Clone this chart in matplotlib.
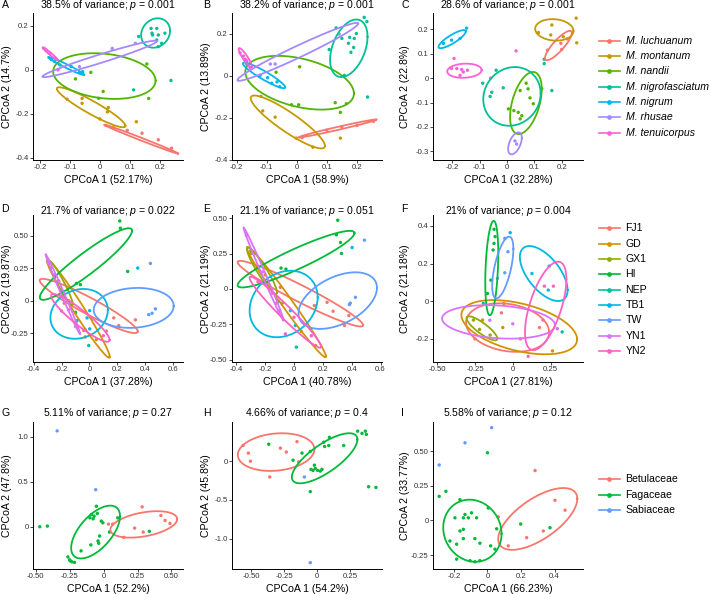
import numpy as np
import matplotlib
matplotlib.use("Agg")
import matplotlib.pyplot as plt
from matplotlib.lines import Line2D

plt.rcParams["font.family"] = "Liberation Sans"
plt.rcParams["mathtext.fontset"] = "custom"
plt.rcParams["mathtext.rm"] = "Liberation Sans"
plt.rcParams["mathtext.it"] = "Liberation Sans:italic"

W, H = 709, 594

# groups
species = ["M. luchuanum", "M. montanum", "M. nandii", "M. nigrofasciatum",
           "M. nigrum", "M. rhusae", "M. tenuicorpus"]
species_col = ["#F8766D", "#C49A00", "#53B400", "#00C094", "#00B6EB", "#A58AFF", "#FB61D7"]
sites = ["FJ1", "GD", "GX1", "HI", "NEP", "TB1", "TW", "YN1", "YN2"]
site_col = ["#F8766D", "#D39200", "#93AA00", "#00BA38", "#00C19F", "#00B9E3",
            "#619CFF", "#DB72FB", "#FF61C3"]
families = ["Betulaceae", "Fagaceae", "Sabiaceae"]
family_col = ["#F8766D", "#00BA38", "#619CFF"]

# ---- panel A (species) ----
A_pts = {
    "M. luchuanum": [(0.019, -0.253), (0.04, -0.262), (0.09, -0.275), (0.139, -0.288), (0.193, -0.318), (0.237, -0.356)],
    "M. montanum": [(-0.110, -0.133), (-0.060, -0.130), (-0.060, -0.152), (-0.001, -0.223), (0.024, -0.191),
                    (0.027, -0.171), (0.044, -0.262), (0.120, -0.236)],
    "M. nandii": [(-0.031, -0.011), (-0.082, -0.041), (0.01, -0.098), (-0.005, -0.129), (0.155, 0.027), (0.161, -0.13)],
    "M. nigrofasciatum": [(0.169, 0.189), (0.188, 0.189), (0.215, 0.167), (0.172, 0.167), (0.174, 0.159), (0.193, 0.159),
                          (0.188, 0.136), (0.204, 0.121), (0.193, 0.106), (0.128, 0.152), (0.235, -0.048), (0.111, -0.091)],
    "M. nigrum": [(-0.162, 0.048), (-0.151, 0.038), (-0.134, 0.023), (-0.096, 0.015), (-0.069, -0.012), (-0.058, -0.008)],
    "M. rhusae": [(0.117, 0.121), (0.04, 0.098), (-0.069, 0.015)],
    "M. tenuicorpus": [(-0.187, 0.098), (-0.178, 0.088), (-0.167, 0.076), (-0.14, 0.0)],
}
A_ell = {
    "M. luchuanum": (0.136, -0.315, 0.123, 0.066, -0.995),
    "M. montanum": (-0.030, -0.170, 0.114, 0.091, -0.93),
    "M. nandii": (0.014, -0.028, 0.17, 0.104, -0.2),
    "M. nigrofasciatum": (0.184, 0.168, 0.048, 0.067, 0.15),
    "M. nigrum": (-0.113, 0.018, 0.060, 0.041, -0.975),
    "M. rhusae": (-0.002, 0.05, 0.19, 0.083, 0.97),
    "M. tenuicorpus": (-0.166, 0.074, 0.025, 0.029, -0.97),
}

# ---- panel B ----
B_pts = {
    "M. luchuanum": [(0.017, -0.293), (0.099, -0.258), (0.149, -0.242), (0.199, -0.235), (0.254, -0.216)],
    "M. montanum": [(-0.119, -0.097), (-0.113, -0.166), (-0.072, -0.196), (-0.002, -0.296), (0.053, -0.339), (0.144, -0.296)],
    "M. nandii": [(0.009, 0.044), (-0.018, -0.137), (0.006, -0.137), (0.127, -0.127), (0.164, -0.132), (0.144, -0.173), (-0.069, 0.018)],
    "M. nigrofasciatum": [(0.223, 0.279), (0.232, 0.259), (0.13, 0.229), (0.149, 0.179), (0.175, 0.184), (0.19, 0.179),
                          (0.171, 0.156), (0.188, 0.136), (0.179, 0.113), (0.107, 0.126), (0.197, 0.202), (0.157, 0.003), (0.234, -0.1)],
    "M. nigrum": [(-0.166, 0.057), (-0.122, 0.003), (-0.097, -0.008), (-0.083, -0.035), (-0.057, -0.051), (-0.066, -0.028)],
    "M. rhusae": [(-0.088, 0.057), (-0.072, 0.057), (0.14, 0.2)],
    "M. tenuicorpus": [(-0.188, 0.11), (-0.177, 0.095), (-0.166, 0.072), (-0.171, 0.08), (-0.155, 0.041)],
}
B_ell = {
    "M. luchuanum": (0.134, -0.25, 0.129, 0.043, 0.985),
    "M. montanum": (-0.03, -0.219, 0.123, 0.126, -0.9),
    "M. nandii": (0.009, -0.032, 0.18, 0.128, -0.4),
    "M. nigrofasciatum": (0.172, 0.132, 0.062, 0.137, 0.4),
    "M. nigrum": (-0.109, 0.003, 0.07, 0.061, -0.93),
    "M. rhusae": (0.003, 0.115, 0.2, 0.138, 0.975),
    "M. tenuicorpus": (-0.171, 0.087, 0.022, 0.046, -0.9),
}

# ---- panel C ----
C_pts = {
    "M. luchuanum": [(0.197, 0.142), (0.2, 0.117), (0.148, 0.114), (0.22, 0.16)],
    "M. montanum": [(0.164, 0.217), (0.16, 0.176), (0.115, 0.186), (0.253, 0.245), (0.255, 0.144), (0.206, 0.169)],
    "M. nandii": [(0.07, -0.021), (0.048, -0.051), (0.077, -0.044), (0.127, -0.044), (0.084, -0.081), (0.005, -0.126),
                  (0.025, -0.133), (0.041, -0.14), (0.054, -0.154), (0.048, -0.167), (0.096, -0.105)],
    "M. nigrofasciatum": [(0.136, 0.077), (0.136, 0.059), (-0.089, -0.021), (-0.056, -0.058), (-0.062, -0.075),
                          (-0.014, -0.04), (0.164, -0.051), (-0.04, 0.032)],
    "M. nigrum": [(-0.203, 0.155), (-0.148, 0.204), (-0.233, 0.142), (-0.172, 0.162)],
    "M. rhusae": [(0.029, -0.257), (0.035, -0.27)],
    "M. tenuicorpus": [(-0.194, 0.08), (-0.203, 0.039), (-0.184, 0.039), (-0.166, 0.035), (-0.172, 0.011),
                       (-0.16, 0.025), (-0.145, 0.032), (0.033, 0.111), (-0.06, 0.0)],
}
C_ell = {
    "M. luchuanum": (0.188, 0.133, 0.049, 0.06, 0.85),
    "M. montanum": (0.173, 0.197, 0.07, 0.044, -0.1),
    "M. nandii": (0.069, -0.102, 0.058, 0.127, 0.45),
    "M. nigrofasciatum": (0.018, -0.075, 0.105, 0.12, 0.1),
    "M. nigrum": (-0.201, 0.159, 0.05, 0.037, 0.85),
    "M. rhusae": (0.029, -0.267, 0.025, 0.045, 0.5),
    "M. tenuicorpus": (-0.156, 0.03, 0.063, 0.029, 0.1),
}

# ---- panel D (sites) ----
D_pts = {
    "FJ1": [(0.175, -0.133), (0.211, -0.192), (0.33, -0.148), (0.122, -0.235), (-0.041, -0.23), (-0.16, 0.0)],
    "GD": [(-0.25, 0.18), (-0.18, -0.02), (-0.1, -0.17), (-0.03, -0.28), (0.05, -0.3)],
    "GX1": [(-0.28, 0.25), (-0.22, 0.15), (-0.15, 0.0)],
    "HI": [(0.218, 0.614), (0.222, 0.558), (0.275, 0.225), (-0.093, 0.133), (-0.065, 0.123), (-0.1, -0.09)],
    "NEP": [(-0.005, -0.346), (-0.1, -0.17)],
    "TB1": [(0.002, -0.077), (-0.017, -0.133), (0.002, -0.218), (-0.089, -0.154), (0.347, 0.251)],
    "TW": [(0.438, 0.287), (0.426, -0.108), (0.45, -0.097), (0.474, -0.064)],
    "YN1": [(-0.3, 0.3), (-0.25, 0.2), (-0.2, 0.07), (-0.15, -0.07), (-0.1, -0.2)],
    "YN2": [(-0.2, -0.08), (-0.1, -0.17), (-0.029, -0.225), (0.1, -0.27)],
}
D_ell = {
    "FJ1": (-0.005, -0.041, 0.352, 0.209, -0.94),
    "GD": (-0.079, -0.064, 0.225, 0.376, -0.98),
    "GX1": (-0.206, 0.136, 0.086, 0.171, -0.95),
    "HI": (-0.025, 0.282, 0.331, 0.276, 0.93),
    "TB1": (-0.074, -0.102, 0.206, 0.192, 0.15),
    "TW": (0.318, -0.056, 0.287, 0.154, 0.1),
    "YN1": (-0.191, 0.051, 0.124, 0.307, -0.995),
    "YN2": (-0.065, -0.133, 0.21, 0.184, -0.92),
}

# ---- panel E ----
E_pts = {
    "FJ1": [(0.229, -0.094), (0.271, -0.157), (0.38, -0.188), (0.35, -0.258), (0.141, -0.117), (-0.095, 0.012)],
    "GD": [(-0.3, 0.25), (-0.2, 0.1), (-0.08, -0.1), (0.05, -0.3), (0.15, -0.4)],
    "GX1": [(-0.3, 0.27), (-0.25, 0.15), (-0.18, 0.05)],
    "HI": [(0.303, 0.486), (0.294, 0.383), (0.322, 0.329), (0.329, 0.251), (-0.09, 0.148), (-0.056, 0.141)],
    "NEP": [(0.016, -0.411), (-0.106, -0.087)],
    "TB1": [(-0.025, -0.153), (-0.106, -0.164), (0.009, -0.258), (0.403, 0.293)],
    "TW": [(0.488, 0.345), (0.426, -0.059), (0.384, -0.11), (0.39, -0.1)],
    "YN1": [(-0.33, 0.38), (-0.28, 0.25), (-0.22, 0.12), (-0.15, -0.03), (-0.1, -0.15)],
    "YN2": [(-0.25, 0.05), (-0.12, -0.1), (0.0, -0.2), (0.12, -0.33), (-0.06, -0.317)],
}
E_ell = {
    "FJ1": (0.044, -0.033, 0.435, 0.232, -0.96),
    "GD": (-0.053, -0.092, 0.274, 0.39, -0.986),
    "GX1": (-0.222, 0.129, 0.104, 0.164, -0.93),
    "HI": (0.014, 0.211, 0.405, 0.2, 0.92),
    "TB1": (-0.072, -0.106, 0.236, 0.235, 0.2),
    "TW": (0.303, -0.082, 0.272, 0.2, 0.45),
    "YN1": (-0.211, 0.106, 0.139, 0.329, -0.995),
    "YN2": (-0.06, -0.164, 0.248, 0.251, -0.97),
}

# ---- panel F ----
F_pts = {
    "FJ1": [(-0.075, -0.062), (0.177, -0.14), (-0.25, -0.2), (0.05, -0.2)],
    "GD": [(-0.059, -0.012), (-0.066, -0.14), (0.263, -0.264), (-0.2, -0.1)],
    "GX1": [(-0.26, -0.1), (-0.22, -0.15), (-0.15, -0.18)],
    "HI": [(-0.124, 0.382), (-0.117, 0.343), (-0.124, 0.307), (-0.13, 0.272), (-0.145, 0.112), (-0.167, 0.041)],
    "NEP": [(-0.195, -0.012), (0.327, -0.163)],
    "TB1": [(-0.017, 0.364), (0.127, 0.147), (0.241, 0.186), (0.235, 0.059)],
    "TW": [(-0.053, 0.334), (-0.032, 0.263), (-0.053, 0.151), (-0.102, 0.121)],
    "YN1": [(-0.152, -0.101), (0.295, -0.146), (0.0, -0.12)],
    "YN2": [(0.209, 0.08), (0.269, 0.08), (0.102, -0.293), (0.2, -0.1)],
}
F_ell = {
    "FJ1": (-0.034, -0.14, 0.275, 0.129, -0.2),
    "GD": (0.043, -0.138, 0.383, 0.144, -0.45),
    "GX1": (-0.204, -0.144, 0.102, 0.064, -0.85),
    "HI": (-0.139, 0.176, 0.043, 0.251, 0.3),
    "TB1": (0.205, 0.147, 0.158, 0.146, -0.6),
    "TW": (-0.066, 0.179, 0.07, 0.164, 0.6),
    "YN1": (-0.094, -0.11, 0.374, 0.089, -0.2),
    "YN2": (0.218, -0.025, 0.137, 0.235, 0.6),
}

# ---- panel G (families) ----
G_pts = {
    "Betulaceae": [(0.036, 0.029), (0.067, 0.029), (0.147, -0.118), (0.229, -0.015), (0.284, 0.221),
                   (0.292, -0.059), (0.422, 0.125), (0.453, 0.07), (0.489, 0.037)],
    "Fagaceae": [(-0.47, 0.0), (-0.414, 0.007), (-0.263, -0.335), (-0.246, -0.379), (-0.234, -0.39), (-0.214, -0.397),
                 (-0.25, -0.368), (-0.166, -0.268), (-0.094, -0.202), (-0.041, -0.158), (-0.036, -0.184), (-0.029, -0.103),
                 (-0.053, 0.228), (-0.089, 0.136), (-0.101, 0.099), (-0.077, 0.088), (-0.07, 0.118), (-0.046, 0.147),
                 (-0.017, 0.063), (-0.005, 0.044), (0.043, -0.059), (0.104, 0.099), (0.337, -0.051)],
    "Sabiaceae": [(-0.342, 1.066), (-0.058, 0.412)],
}
G_ell = {
    "Betulaceae": (0.296, 0.026, 0.246, 0.147, 0.4),
    "Fagaceae": (-0.059, -0.059, 0.18, 0.294, 0.6),
}

# ---- panel H ----
H_pts = {
    "Betulaceae": [(-0.562, 0.203), (-0.522, 0.105), (-0.506, 0.0), (-0.359, -0.203), (-0.278, 0.169),
                   (-0.233, 0.118), (-0.152, 0.253), (-0.139, -0.008)],
    "Fagaceae": [(-0.367, 0.219), (-0.182, 0.013), (-0.114, 0.105), (-0.051, 0.127), (-0.046, -0.105), (-0.03, -0.118),
                 (-0.013, -0.093), (0.005, -0.118), (0.025, -0.127), (0.038, -0.105), (-0.02, -0.051), (-0.051, -0.392),
                 (0.051, 0.245), (0.058, 0.19), (0.089, 0.203), (0.094, 0.308), (0.203, 0.203), (0.309, 0.388),
                 (0.342, 0.359), (0.367, 0.388), (0.375, 0.346), (0.392, -0.329), (0.448, -0.338)],
    "Sabiaceae": [(-0.096, -0.203), (-0.051, -1.308)],
}
H_ell = {
    "Betulaceae": (-0.311, 0.118, 0.291, 0.243, 0.15),
    "Fagaceae": (0.058, 0.038, 0.249, 0.323, 0.75),
}

# ---- panel I ----
I_pts = {
    "Betulaceae": [(0.284, 0.36), (0.403, 0.145), (0.463, 0.074), (0.333, -0.076), (0.234, -0.124),
                   (0.124, -0.183), (0.065, 0.026)],
    "Fagaceae": [(0.0, 0.488), (-0.248, 0.21), (-0.288, 0.174), (-0.164, 0.15), (-0.194, 0.019), (-0.144, 0.019),
                 (-0.114, 0.019), (-0.164, -0.076), (-0.144, -0.131), (-0.184, -0.171), (-0.224, -0.148),
                 (-0.184, -0.279), (-0.134, 0.043), (-0.095, 0.055), (-0.065, 0.019), (-0.144, -0.064),
                 (-0.075, -0.131), (-0.045, -0.164), (0.019, -0.183), (0.045, -0.207), (0.055, -0.06),
                 (0.005, 0.09), (-0.104, -0.29), (-0.075, -0.298), (-0.045, -0.29), (0.198, -0.026), (0.373, -0.052)],
    "Sabiaceae": [(0.025, 0.669), (-0.134, 0.56), (-0.288, 0.4)],
}
I_ell = {
    "Betulaceae": (0.3, 0.011, 0.236, 0.223, 0.65),
    "Fagaceae": (-0.09, -0.074, 0.174, 0.224, -0.1),
}

letters = ["A", "B", "C", "D", "E", "F", "G", "H", "I"]
var_pct = ["38.5", "38.2", "28.6", "21.7", "21.1", "21", "5.11", "4.66", "5.58"]
p_vals = ["0.001", "0.001", "0.001", "0.022", "0.051", "0.004", "0.27", "0.4", "0.12"]
axis1_pct = ["52.17", "58.9", "32.28", "37.28", "40.78", "27.81", "52.2", "54.2", "66.23"]
axis2_pct = ["14.7", "13.89", "22.8", "19.87", "21.19", "21.18", "47.8", "45.8", "33.77"]

xlims = [(-0.223, 0.275), (-0.215, 0.282), (-0.271, 0.278),
         (-0.405, 0.672), (-0.43, 0.61), (-0.528, 0.465),
         (-0.52, 0.585), (-0.646, 0.494), (-0.325, 0.57)]
ylims = [(-0.41, 0.259), (-0.368, 0.30), (-0.335, 0.266),
         (-0.473, 0.66), (-0.516, 0.523), (-0.323, 0.458),
         (-0.47, 1.165), (-1.39, 0.506), (-0.35, 0.71)]
xtick_labels = [["-0.2", "-0.1", "0", "0.1", "0.2"], ["-0.2", "-0.1", "0", "0.1", "0.2"],
                ["-0.2", "-0.1", "0", "0.1", "0.2"],
                ["-0.4", "-0.2", "0", "0.2", "0.4", "0.6"], ["-0.4", "-0.2", "0", "0.2", "0.4", "0.6"],
                ["-0.50", "-0.25", "0", "0.25"],
                ["-0.50", "-0.25", "0", "0.25", "0.50"], ["-0.50", "-0.25", "0", "0.25"],
                ["-0.2", "0", "0.2", "0.4"]]
ytick_labels = [["-0.4", "-0.2", "0", "0.2"], ["-0.4", "-0.2", "0", "0.2"],
                ["-0.3", "-0.2", "-0.1", "0", "0.1", "0.2"],
                ["-0.25", "0", "0.25", "0.50"], ["-0.50", "-0.25", "0", "0.25", "0.50"],
                ["-0.2", "0", "0.2", "0.4"],
                ["0", "0.5", "1.0"], ["-1.0", "-0.5", "0"], ["-0.25", "0", "0.25", "0.50"]]

panel_pts = [A_pts, B_pts, C_pts, D_pts, E_pts, F_pts, G_pts, H_pts, I_pts]
panel_ell = [A_ell, B_ell, C_ell, D_ell, E_ell, F_ell, G_ell, H_ell, I_ell]
row_groups = [(species, species_col), (sites, site_col), (families, family_col)]


def ellipse_xy(cx, cy, rx, ry, rho):
    t = np.linspace(0, 2 * np.pi, 241)
    x = cx + rx * np.cos(t)
    y = cy + ry * (rho * np.cos(t) + np.sqrt(1 - rho ** 2) * np.sin(t))
    return x, y


fig = plt.figure(figsize=(W / 100, H / 100), dpi=100)

col_left = [33, 232, 433]
row_top = [13, 215, 422]
pw, ph = 150, 147
title_base = [8.5, 213.5, 416.5]
ylab_cx = [7, 206, 405]
letter_x = [1.5, 203, 401]

for k in range(9):
    r, c = divmod(k, 3)
    names, cols = row_groups[r]
    ax = fig.add_axes([col_left[c] / W, 1 - (row_top[r] + ph) / H, pw / W, ph / H])
    for name, colr in zip(names, cols):
        if name in panel_pts[k]:
            p = np.array(panel_pts[k][name])
            ax.scatter(p[:, 0], p[:, 1], s=6, color=colr, edgecolors="none", zorder=2)
    for name, colr in zip(names, cols):
        if name in panel_ell[k]:
            ex, ey = ellipse_xy(*panel_ell[k][name])
            ax.plot(ex, ey, color=colr, lw=1.3, zorder=3)
    ax.set_xlim(*xlims[k])
    ax.set_ylim(*ylims[k])
    ax.set_xticks([float(s) for s in xtick_labels[k]])
    ax.set_xticklabels(xtick_labels[k])
    ax.set_yticks([float(s) for s in ytick_labels[k]])
    ax.set_yticklabels(ytick_labels[k])
    for side in ["top", "right"]:
        ax.spines[side].set_visible(False)
    for side in ["left", "bottom"]:
        ax.spines[side].set_linewidth(0.7)
    ax.tick_params(length=2, width=0.5, pad=1.2, labelsize=5.6, colors="black", labelcolor="#333333")

    cx_page = col_left[c] + pw / 2
    fig.text(cx_page / W, 1 - title_base[r] / H,
             var_pct[k] + "% of variance; $p$ = " + p_vals[k],
             ha="center", va="baseline", fontsize=7.6)
    fig.text(letter_x[c] / W, 1 - (title_base[r] - 1) / H, letters[k],
             ha="left", va="baseline", fontsize=7.6)
    fig.text(cx_page / W, 1 - (row_top[r] + ph + 23) / H, "CPCoA 1 (" + axis1_pct[k] + "%)",
             ha="center", va="baseline", fontsize=7.6)
    fig.text(ylab_cx[c] / W, 1 - (row_top[r] + ph / 2) / H, "CPCoA 2 (" + axis2_pct[k] + "%)",
             ha="center", va="center", rotation=90, fontsize=7.6)

# legends, one per row
legend_top = [40.7, 228.3, 479.3]
for r in range(3):
    names, cols = row_groups[r]
    for i, (name, colr) in enumerate(zip(names, cols)):
        y = 1 - (legend_top[r] + 15.35 * i) / H
        fig.add_artist(Line2D([598.5 / W, 619.5 / W], [y, y], color=colr, lw=1.2))
        fig.add_artist(Line2D([609 / W], [y], color=colr, marker="o", markersize=3.4,
                              markeredgewidth=0))
        fig.text(625.5 / W, y, name, ha="left", va="center", fontsize=7.6,
                 style="italic" if r == 0 else "normal")

fig.savefig("out.png", dpi=100)
